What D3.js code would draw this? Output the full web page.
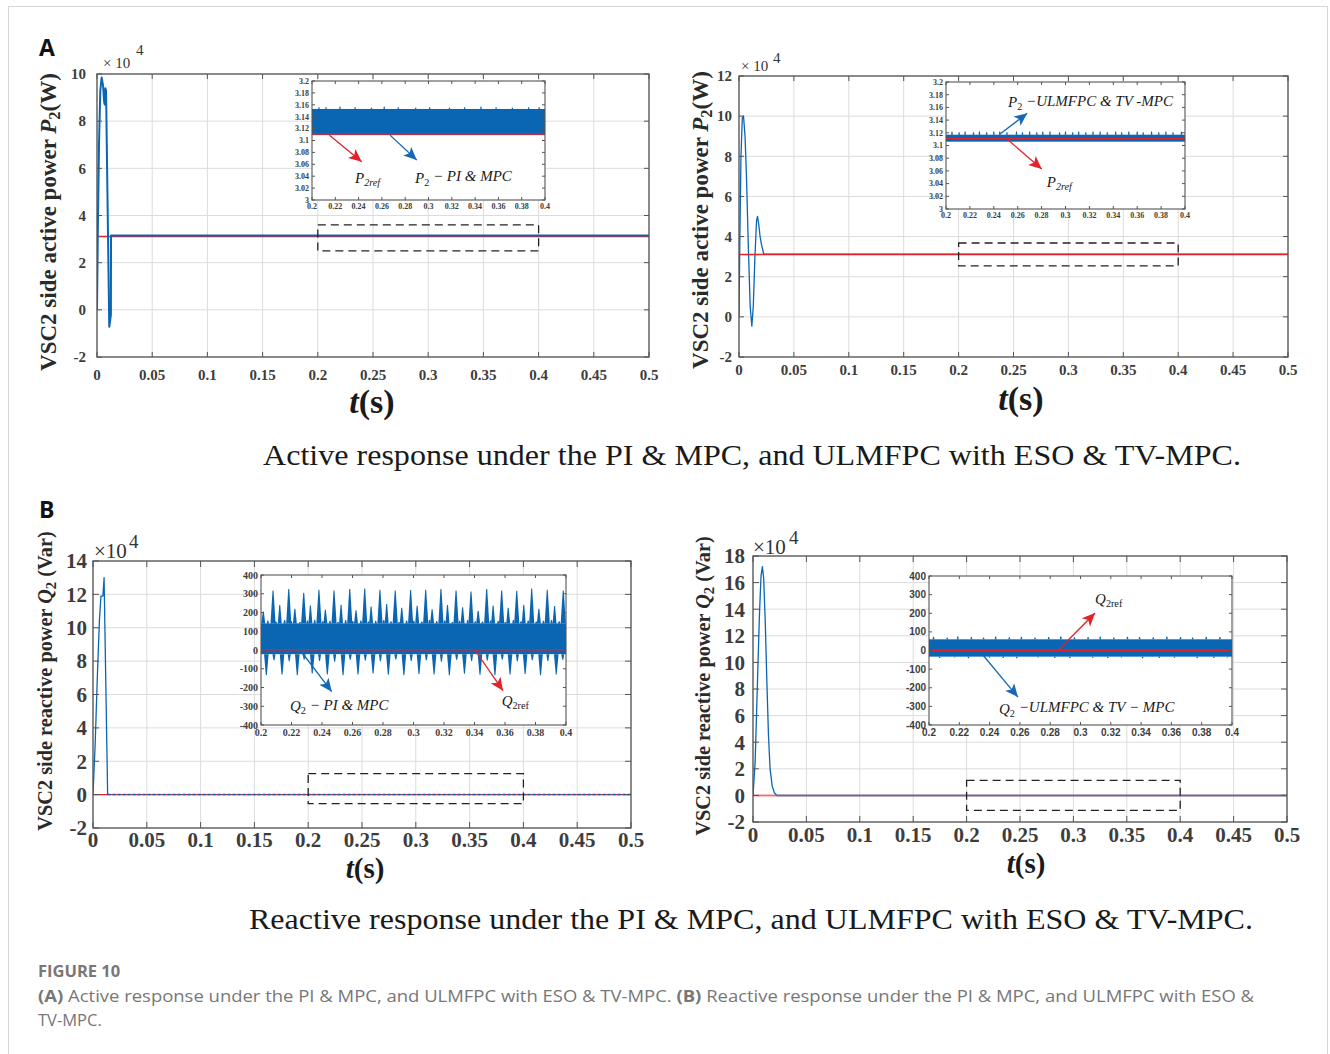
<!DOCTYPE html>
<html>
<head>
<meta charset="utf-8">
<script src="https://cdn.jsdelivr.net/npm/d3@7"></script>
<style>
  body { margin: 0; background: #fff; }
  svg { display: block; }
</style>
</head>
<body>
<div id="fig"></div>
<script>
// ---------- data ----------
const xTicks = [0, 0.05, 0.1, 0.15, 0.2, 0.25, 0.3, 0.35, 0.4, 0.45, 0.5];
const insetXTicks = [0.2, 0.22, 0.24, 0.26, 0.28, 0.3, 0.32, 0.34, 0.36, 0.38, 0.4];
const pYTicksA1 = [-2, 0, 2, 4, 6, 8, 10];
const pYTicksA2 = [-2, 0, 2, 4, 6, 8, 10, 12];
const qYTicksB1 = [-2, 0, 2, 4, 6, 8, 10, 12, 14];
const qYTicksB2 = [-2, 0, 2, 4, 6, 8, 10, 12, 14, 16, 18];
const pInsetYTicks = [3, 3.02, 3.04, 3.06, 3.08, 3.1, 3.12, 3.14, 3.16, 3.18, 3.2];
const qInsetYTicks = [-400, -300, -200, -100, 0, 100, 200, 300, 400];

// P2 (x10^4 W), PI & MPC
const p2PiT = [0, 0.0008, 0.0018, 0.003, 0.0042, 0.0055, 0.0065, 0.0071, 0.0076, 0.0082, 0.0111, 0.0126, 0.0127, 0.5];
const p2PiV = [0, 3.5, 7.0, 9.3, 9.85, 9.5, 8.8, 8.7, 9.4, 9.3, -0.72, -0.2, 3.155, 3.155];
// P2 (x10^4 W), ULMFPC & TV-MPC
const p2PropT = [0, 0.0008, 0.0018, 0.003, 0.0041, 0.0055, 0.0068, 0.0085, 0.0102, 0.0117, 0.013, 0.0145, 0.016, 0.0169, 0.018, 0.0192, 0.0205, 0.0226, 0.5];
const p2PropV = [0, 4.0, 8.0, 9.9, 10.0, 9.0, 7.0, 3.5, 0.5, -0.46, 0.5, 3.0, 4.8, 5.0, 4.6, 4.0, 3.6, 3.12, 3.12];
const p2RefT = [0, 0.5];
const p2RefV = [3.11, 3.11];

// Q2 (x10^4 Var), PI & MPC
const q2PiT = [0, 0.002, 0.004, 0.006, 0.0074, 0.0092, 0.0103, 0.0136];
const q2PiV = [0, 3.0, 7.0, 10.5, 11.9, 11.9, 13.0, 0.0];
const q2PiSteadyT = [0.0136, 0.5];
const q2PiSteadyV = [0.006, 0.006];
// Q2 (x10^4 Var), ULMFPC & TV-MPC
const q2PropT = [0, 0.002, 0.004, 0.006, 0.0075, 0.0088, 0.010, 0.0115, 0.013, 0.0145, 0.016, 0.018, 0.020, 0.0222];
const q2PropV = [0, 2.5, 8.0, 13.5, 16.5, 17.2, 16.3, 13.0, 8.5, 4.5, 2.0, 0.7, 0.2, 0];
const q2PropSteadyT = [0.0222, 0.5];
const q2PropSteadyV = [0, 0];
const q2RefT = [0, 0.5];
const q2RefV = [0, 0];

// zoom windows [t0, t1, v0, v1]
const zoomA1 = [0.2, 0.4, 2.5, 3.6];
const zoomA2 = [0.2, 0.4, 2.54, 3.68];
const zoomB1 = [0.2, 0.4, -0.54, 1.26];
const zoomB2 = [0.2, 0.4, -1.13, 1.13];

// inset bands [low, high] and edge spikes
const p2PiBand = [3.109, 3.153];
const p2PiBumpT = [0.206, 0.212, 0.224, 0.237, 0.251, 0.262, 0.274, 0.289, 0.301, 0.318, 0.331, 0.345, 0.358, 0.372, 0.386, 0.395];
const p2PiBumpV = [3.156, 3.156, 3.157, 3.156, 3.155, 3.157, 3.156, 3.155, 3.156, 3.155, 3.156, 3.157, 3.156, 3.155, 3.156, 3.156];
const p2PropBand = [3.106, 3.117];
const p2PropBumpT = [0.205, 0.211, 0.216, 0.223, 0.228, 0.234, 0.240, 0.245, 0.251, 0.259, 0.264, 0.270, 0.276, 0.281, 0.287, 0.295, 0.300, 0.306, 0.311, 0.317, 0.323, 0.329, 0.335, 0.342, 0.347, 0.353, 0.360, 0.365, 0.372, 0.378, 0.384, 0.390, 0.397];
const p2PropBumpV = [3.122, 3.121, 3.122, 3.121, 3.122, 3.121, 3.122, 3.122, 3.121, 3.122, 3.121, 3.122, 3.121, 3.122, 3.122, 3.121, 3.122, 3.121, 3.122, 3.121, 3.122, 3.122, 3.121, 3.122, 3.121, 3.122, 3.122, 3.121, 3.122, 3.121, 3.122, 3.121, 3.122];
const p2InsetRef = 3.111;

const q2PiBand = [-22, 142];
const q2PiTallT = [0.2079, 0.2182, 0.2280, 0.2380, 0.2479, 0.2582, 0.2680, 0.2780, 0.2880, 0.2981, 0.3080, 0.3180, 0.3279, 0.3377, 0.3480, 0.3578, 0.3677, 0.3775, 0.3877, 0.3982];
const q2PiTallV = [318, 325, 305, 322, 318, 326, 328, 322, 318, 320, 322, 326, 318, 312, 325, 318, 316, 328, 322, 318];
const q2PiMidT = [0.2015, 0.2123, 0.2222, 0.2324, 0.2422, 0.2525, 0.2623, 0.2722, 0.2824, 0.2923, 0.3024, 0.3122, 0.3223, 0.3322, 0.3424, 0.3522, 0.3621, 0.3723, 0.3822, 0.3925];
const q2PiMidV = [205, 240, 220, 238, 215, 242, 212, 232, 245, 225, 236, 218, 240, 228, 210, 238, 226, 242, 220, 235];
const q2PiEdgeT = [0.2045, 0.2098, 0.2155, 0.2198, 0.2255, 0.2305, 0.2352, 0.2405, 0.2452, 0.2505, 0.2555, 0.2602, 0.2655, 0.2705, 0.2752, 0.2805, 0.2852, 0.2905, 0.2955, 0.3002, 0.3055, 0.3105, 0.3152, 0.3205, 0.3255, 0.3302, 0.3355, 0.3405, 0.3452, 0.3505, 0.3555, 0.3602, 0.3655, 0.3705, 0.3752, 0.3805, 0.3852, 0.3905, 0.3955];
const q2PiEdgeV = [158, 152, 160, 155, 150, 158, 162, 154, 156, 150, 160, 155, 158, 152, 156, 160, 154, 150, 158, 156, 152, 160, 155, 158, 150, 156, 160, 154, 152, 158, 156, 150, 160, 154, 158, 152, 156, 160, 154];
const q2PiDownT = [0.2035, 0.2138, 0.2238, 0.2336, 0.2435, 0.2538, 0.2636, 0.2735, 0.2835, 0.2937, 0.3036, 0.3135, 0.3235, 0.3334, 0.3436, 0.3534, 0.3633, 0.3732, 0.3833, 0.3936];
const q2PiDownV = [-135, -130, -135, -125, -130, -135, -130, -125, -132, -135, -128, -130, -134, -126, -132, -135, -130, -128, -134, -130];
const q2PiDownSmallT = [0.2085, 0.2185, 0.2283, 0.2384, 0.2483, 0.2585, 0.2684, 0.2783, 0.2884, 0.2985, 0.3084, 0.3183, 0.3283, 0.3381, 0.3484, 0.3582, 0.3681, 0.3779, 0.3881, 0.3979];
const q2PiDownSmallV = [-55, -60, -50, -58, -62, -52, -56, -60, -50, -58, -54, -62, -52, -58, -56, -50, -60, -54, -58, -52];

const q2PropBand = [-33, 60];
const q2PropFuzzUpT = [0.203, 0.212, 0.219, 0.228, 0.236, 0.244, 0.253, 0.261, 0.270, 0.279, 0.287, 0.296, 0.305, 0.313, 0.322, 0.331, 0.339, 0.348, 0.357, 0.366, 0.374, 0.383, 0.392];
const q2PropFuzzUpV = [74, 70, 76, 72, 70, 75, 71, 74, 70, 73, 76, 71, 72, 75, 70, 74, 72, 71, 75, 73, 70, 74, 72];
const q2PropFuzzDnT = [0.207, 0.217, 0.226, 0.240, 0.249, 0.258, 0.272, 0.283, 0.293, 0.308, 0.318, 0.327, 0.341, 0.352, 0.362, 0.377, 0.388, 0.397];
const q2PropFuzzDnV = [-40, -38, -41, -39, -40, -42, -38, -40, -41, -39, -40, -38, -42, -40, -39, -41, -40, -38];

// ---------- drawing ----------
const W = 1330, H = 1054;
const blue = "#0a66b2", red = "#e3222b";
const serif = "'Liberation Serif', 'Times New Roman', serif";
const sans = "'Open Sans', 'Liberation Sans', sans-serif";

const svg = d3.select("#fig").append("svg")
  .attr("width", W).attr("height", H)
  .style("font-family", serif);

svg.append("rect").attr("x", 8.5).attr("y", 6.5).attr("width", 1319).attr("height", 1060)
  .attr("fill", "#fff").attr("stroke", "#d6d6d6");

const defs = svg.append("defs");
[["arrRed", red], ["arrBlue", "#1468b4"]].forEach(([id, c]) => {
  defs.append("marker")
    .attr("id", id)
    .attr("viewBox", "0 0 10 10")
    .attr("refX", 10).attr("refY", 5)
    .attr("markerWidth", 13).attr("markerHeight", 13)
    .attr("markerUnits", "userSpaceOnUse")
    .attr("orient", "auto")
    .append("path")
    .attr("d", "M0,0.5L10,5L0,9.5L2.5,5Z")
    .attr("fill", c);
});

let clipId = 0;
const pairs = (t, v) => d3.zip(t, v);

function drawMain(p) {
  const [x0, y0, x1, y1] = p.box;
  const x = d3.scaleLinear().domain([0, 0.5]).range([x0, x1]);
  const y = d3.scaleLinear().domain(p.yDomain).range([y1, y0]);
  const g = svg.append("g");

  // grid
  g.selectAll(null).data(xTicks).join("line")
    .attr("x1", d => x(d)).attr("x2", d => x(d)).attr("y1", y0).attr("y2", y1)
    .attr("stroke", "#dcdcdc").attr("stroke-width", 1);
  g.selectAll(null).data(p.yTicks).join("line")
    .attr("x1", x0).attr("x2", x1).attr("y1", d => y(d)).attr("y2", d => y(d))
    .attr("stroke", "#dcdcdc").attr("stroke-width", 1);

  const cid = "clip" + (clipId++);
  defs.append("clipPath").attr("id", cid)
    .append("rect").attr("x", x0).attr("y", y0).attr("width", x1 - x0).attr("height", y1 - y0);
  const plot = g.append("g").attr("clip-path", `url(#${cid})`);

  const line = d3.line().x(d => x(d[0])).y(d => y(d[1]));
  p.series.forEach(s => {
    plot.append("path")
      .datum(pairs(s.t, s.v))
      .attr("d", line)
      .attr("fill", "none")
      .attr("stroke", s.color)
      .attr("stroke-width", s.width || 1.3)
      .attr("stroke-opacity", s.opacity || 1)
      .attr("stroke-dasharray", s.dash || null)
      .attr("stroke-linejoin", "round");
  });

  // dashed zoom window
  const z = p.zoom;
  g.append("rect")
    .attr("x", x(z[0])).attr("y", y(z[3]))
    .attr("width", x(z[1]) - x(z[0])).attr("height", y(z[2]) - y(z[3]))
    .attr("fill", "none").attr("stroke", "#222").attr("stroke-width", 1.3)
    .attr("stroke-dasharray", "8,5");

  // frame with inward ticks on all sides
  const tl = p.tickLen;
  g.append("rect").attr("x", x0).attr("y", y0).attr("width", x1 - x0).attr("height", y1 - y0)
    .attr("fill", "none").attr("stroke", "#555").attr("stroke-width", 1.3);
  xTicks.forEach(d => {
    g.append("line").attr("x1", x(d)).attr("x2", x(d)).attr("y1", y1).attr("y2", y1 - tl).attr("stroke", "#555");
    g.append("line").attr("x1", x(d)).attr("x2", x(d)).attr("y1", y0).attr("y2", y0 + tl).attr("stroke", "#555");
  });
  p.yTicks.forEach(d => {
    g.append("line").attr("x1", x0).attr("x2", x0 + tl).attr("y1", y(d)).attr("y2", y(d)).attr("stroke", "#555");
    g.append("line").attr("x1", x1).attr("x2", x1 - tl).attr("y1", y(d)).attr("y2", y(d)).attr("stroke", "#555");
  });

  // tick labels
  g.selectAll(null).data(xTicks).join("text")
    .attr("x", d => x(d)).attr("y", y1 + p.xLabelDy)
    .attr("text-anchor", "middle")
    .attr("font-size", p.tickFont).attr("font-weight", "bold").attr("fill", "#3d3d3d")
    .text(d => String(d));
  g.selectAll(null).data(p.yTicks).join("text")
    .attr("x", x0 - p.yLabelDx).attr("y", d => y(d))
    .attr("dy", "0.35em")
    .attr("text-anchor", "end")
    .attr("font-size", p.tickFont).attr("font-weight", "bold").attr("fill", "#3d3d3d")
    .text(d => String(d));

  // x10^4 multiplier
  g.append("text").attr("x", p.mult[0]).attr("y", p.mult[1])
    .attr("font-size", p.mult[2]).attr("fill", "#333").text(p.multText);
  g.append("text").attr("x", p.mult[3]).attr("y", p.mult[4])
    .attr("font-size", p.mult[5]).attr("fill", "#333").text("4");

  // x label t(s)
  const xl = g.append("text").attr("x", p.xTitle[0]).attr("y", p.xTitle[1])
    .attr("text-anchor", "middle").attr("font-size", p.xTitle[2])
    .attr("font-weight", "bold").attr("fill", "#1a1a1a");
  xl.append("tspan").attr("font-style", "italic").text("t");
  xl.append("tspan").text("(s)");

  // y label
  const yl = g.append("text")
    .attr("transform", `translate(${p.yTitle[0]},${p.yTitle[1]}) rotate(-90)`)
    .attr("text-anchor", "middle").attr("dy", "0.35em")
    .attr("font-size", p.yTitle[2]).attr("font-weight", "bold").attr("fill", "#2a2a2a");
  yl.append("tspan").text(p.yText[0]);
  yl.append("tspan").attr("font-style", "italic").text(p.yText[1]);
  yl.append("tspan").attr("font-size", "72%").attr("dy", "0.25em").text("2");
  yl.append("tspan").attr("dy", "-0.18em").text(p.yText[2]);

  return { x, y, g };
}

function mathLabel(g, xx, yy, size, sym, sub, rest, subItalic) {
  const t = g.append("text").attr("x", xx).attr("y", yy)
    .attr("font-size", size).attr("fill", "#1a1a1a").attr("font-style", "italic");
  t.append("tspan").text(sym);
  t.append("tspan").attr("font-size", "68%").attr("dy", "0.3em")
    .attr("font-style", subItalic ? "italic" : "normal").text(sub);
  if (rest) t.append("tspan").attr("dy", "-0.3em").text(rest);
  return t;
}

function drawInset(p) {
  const [x0, y0, x1, y1] = p.box;
  const x = d3.scaleLinear().domain([0.2, 0.4]).range([x0, x1]);
  const y = d3.scaleLinear().domain(p.yDomain).range([y1, y0]);
  const g = svg.append("g");
  g.append("rect").attr("x", x0).attr("y", y0).attr("width", x1 - x0).attr("height", y1 - y0)
    .attr("fill", "#fff");

  const cid = "clip" + (clipId++);
  defs.append("clipPath").attr("id", cid)
    .append("rect").attr("x", x0).attr("y", y0).attr("width", x1 - x0).attr("height", y1 - y0);
  const plot = g.append("g").attr("clip-path", `url(#${cid})`);

  // noisy band
  plot.append("rect")
    .attr("x", x(0.2)).attr("width", x(0.4) - x(0.2))
    .attr("y", y(p.band[1])).attr("height", y(p.band[0]) - y(p.band[1]))
    .attr("fill", blue);
  // spikes as narrow triangles on the band edge
  p.spikes.forEach(s => {
    plot.selectAll(null).data(pairs(s.t, s.v)).join("path")
      .attr("d", d => {
        const base = d[1] > p.band[1] ? p.band[1] : p.band[0];
        return `M${x(d[0] - s.w)},${y(base)}L${x(d[0]) - 0.5},${y(d[1])}L${x(d[0]) + 0.5},${y(d[1])}L${x(d[0] + s.w)},${y(base)}Z`;
      })
      .attr("fill", blue);
  });
  // reference line
  plot.append("line").attr("x1", x(0.2)).attr("x2", x(0.4))
    .attr("y1", y(p.ref)).attr("y2", y(p.ref))
    .attr("stroke", red).attr("stroke-width", p.refWidth || 1.4);

  // frame + ticks
  g.append("rect").attr("x", x0).attr("y", y0).attr("width", x1 - x0).attr("height", y1 - y0)
    .attr("fill", "none").attr("stroke", "#555").attr("stroke-width", 1.1);
  insetXTicks.forEach(d => {
    g.append("line").attr("x1", x(d)).attr("x2", x(d)).attr("y1", y1).attr("y2", y1 - 3).attr("stroke", "#555");
    g.append("line").attr("x1", x(d)).attr("x2", x(d)).attr("y1", y0).attr("y2", y0 + 3).attr("stroke", "#555");
  });
  p.yTicks.forEach(d => {
    g.append("line").attr("x1", x0).attr("x2", x0 + 3).attr("y1", y(d)).attr("y2", y(d)).attr("stroke", "#555");
    g.append("line").attr("x1", x1).attr("x2", x1 - 3).attr("y1", y(d)).attr("y2", y(d)).attr("stroke", "#555");
  });
  g.selectAll(null).data(insetXTicks).join("text")
    .attr("x", d => x(d)).attr("y", y1 + p.tickFont + 1)
    .attr("text-anchor", "middle").attr("font-family", p.tickFamily)
    .attr("font-size", p.tickFont).attr("font-weight", "bold").attr("fill", "#3d3d3d")
    .text(d => String(d));
  g.selectAll(null).data(p.yTicks).join("text")
    .attr("x", x0 - 3).attr("y", d => y(d)).attr("dy", "0.35em")
    .attr("text-anchor", "end").attr("font-family", p.tickFamily)
    .attr("font-size", p.tickFont).attr("font-weight", "bold").attr("fill", "#3d3d3d")
    .text(d => String(d));

  // arrows
  p.arrows.forEach(a => {
    g.append("line")
      .attr("x1", x(a.from[0])).attr("y1", y(a.from[1]))
      .attr("x2", x(a.to[0])).attr("y2", y(a.to[1]))
      .attr("stroke", a.color === "red" ? red : "#1468b4").attr("stroke-width", 1.3)
      .attr("marker-end", a.color === "red" ? "url(#arrRed)" : "url(#arrBlue)");
  });
  p.labels.forEach(l => {
    mathLabel(g, x(l.at[0]), y(l.at[1]), l.size, l.sym, l.sub, l.rest, l.subItalic);
  });
}

// ---------- panel A ----------
svg.append("text").attr("x", 39).attr("y", 56).attr("font-family", sans)
  .attr("font-size", 23).attr("font-weight", "bold").attr("fill", "#111").text("A");

drawMain({
  box: [97, 74, 649, 357], yDomain: [-2, 10], yTicks: pYTicksA1, zoom: zoomA1,
  tickLen: 5, tickFont: 15, xLabelDy: 23, yLabelDx: 11,
  mult: [103, 68, 15, 136, 55, 15], multText: "× 10",
  xTitle: [372, 413, 34], yTitle: [48, 222, 23], yText: ["VSC2 side active power ", "P", "(W)"],
  series: [
    { t: p2RefT, v: p2RefV, color: red, width: 1.3 },
    { t: p2PiT, v: p2PiV, color: blue, width: 2 }
  ]
});
drawMain({
  box: [739, 76, 1288, 357], yDomain: [-2, 12], yTicks: pYTicksA2, zoom: zoomA2,
  tickLen: 5, tickFont: 15, xLabelDy: 18, yLabelDx: 7,
  mult: [741, 71, 15, 773, 63, 15], multText: "× 10",
  xTitle: [1021, 410, 34], yTitle: [700, 220, 23], yText: ["VSC2 side active power ", "P", "(W)"],
  series: [
    { t: p2PropT, v: p2PropV, color: blue, width: 1.3 },
    { t: p2RefT, v: p2RefV, color: red, width: 1.4 }
  ]
});

drawInset({
  box: [312, 81, 545, 200], yDomain: [3, 3.2], yTicks: pInsetYTicks,
  tickFont: 8, tickFamily: serif,
  band: p2PiBand, ref: p2InsetRef,
  spikes: [{ t: p2PiBumpT, v: p2PiBumpV, w: 0.0006 }],
  arrows: [
    { from: [0.215, 3.109], to: [0.2427, 3.0644], color: "red" },
    { from: [0.267, 3.109], to: [0.2899, 3.0672], color: "blue" }
  ],
  labels: [
    { at: [0.2369, 3.029], size: 15, sym: "P", sub: "2ref", subItalic: true },
    { at: [0.2884, 3.029], size: 15, sym: "P", sub: "2", rest: " − PI & MPC" }
  ]
});
drawInset({
  box: [946, 82, 1185, 209], yDomain: [3, 3.2], yTicks: pInsetYTicks,
  tickFont: 8, tickFamily: serif,
  band: p2PropBand, ref: p2InsetRef, refWidth: 1.6,
  spikes: [{ t: p2PropBumpT, v: p2PropBumpV, w: 0.0007 }],
  arrows: [
    { from: [0.2452, 3.118], to: [0.268, 3.1507], color: "blue" },
    { from: [0.2513, 3.1098], to: [0.2801, 3.063], color: "red" }
  ],
  labels: [
    { at: [0.2519, 3.1606], size: 15, sym: "P", sub: "2", rest: " −ULMFPC & TV -MPC" },
    { at: [0.2843, 3.035], size: 15, sym: "P", sub: "2ref", subItalic: true }
  ]
});

svg.append("text").attr("x", 752).attr("y", 465).attr("text-anchor", "middle")
  .attr("font-size", 29).attr("fill", "#1a1a1a")
  .attr("textLength", 978).attr("lengthAdjust", "spacingAndGlyphs")
  .text("Active response under the PI & MPC, and ULMFPC with ESO & TV-MPC.");

// ---------- panel B ----------
svg.append("text").attr("x", 39).attr("y", 518).attr("font-family", sans)
  .attr("font-size", 23).attr("font-weight", "bold").attr("fill", "#111").text("B");

drawMain({
  box: [93, 561, 631, 828], yDomain: [-2, 14], yTicks: qYTicksB1, zoom: zoomB1,
  tickLen: 6, tickFont: 21, xLabelDy: 19, yLabelDx: 6,
  mult: [94, 558, 21, 129, 548, 19], multText: "×10",
  xTitle: [365, 878, 29], yTitle: [45, 681, 20.3], yText: ["VSC2 side reactive power ", "Q", " (Var)"],
  series: [
    { t: q2RefT, v: q2RefV, color: red, width: 1.4 },
    { t: q2PiT, v: q2PiV, color: blue, width: 1.3 },
    { t: q2PiSteadyT, v: q2PiSteadyV, color: blue, width: 1.6, dash: "3,2" }
  ]
});
drawMain({
  box: [753, 556, 1287, 822], yDomain: [-2, 18], yTicks: qYTicksB2, zoom: zoomB2,
  tickLen: 6, tickFont: 21, xLabelDy: 20, yLabelDx: 8,
  mult: [753, 554, 21, 789, 544, 19], multText: "×10",
  xTitle: [1026, 873, 29], yTitle: [703, 686, 20.3], yText: ["VSC2 side reactive power ", "Q", " (Var)"],
  series: [
    { t: q2RefT, v: q2RefV, color: red, width: 2, opacity: 0.55 },
    { t: q2PropT, v: q2PropV, color: blue, width: 1.3 },
    { t: q2PropSteadyT, v: q2PropSteadyV, color: blue, width: 2, opacity: 0.55 }
  ]
});

drawInset({
  box: [261, 575, 566, 725], yDomain: [-400, 400], yTicks: qInsetYTicks,
  tickFont: 10, tickFamily: serif,
  band: q2PiBand, ref: 0, refWidth: 1.2,
  spikes: [
    { t: q2PiEdgeT, v: q2PiEdgeV, w: 0.0008 },
    { t: q2PiTallT, v: q2PiTallV, w: 0.0017 },
    { t: q2PiMidT, v: q2PiMidV, w: 0.0013 },
    { t: q2PiDownT, v: q2PiDownV, w: 0.0015 },
    { t: q2PiDownSmallT, v: q2PiDownSmallV, w: 0.001 }
  ],
  arrows: [
    { from: [0.2256, 0], to: [0.2464, -222], color: "blue" },
    { from: [0.3403, 0], to: [0.3587, -217], color: "red" }
  ],
  labels: [
    { at: [0.219, -326], size: 15, sym: "Q", sub: "2", rest: " − PI & MPC" },
    { at: [0.3578, -300], size: 15, sym: "Q", sub: "2ref", subItalic: false }
  ]
});
drawInset({
  box: [929, 576, 1232, 725], yDomain: [-400, 400], yTicks: qInsetYTicks,
  tickFont: 10, tickFamily: "'Liberation Sans', Arial, sans-serif",
  band: q2PropBand, ref: 0, refWidth: 1.6,
  spikes: [
    { t: q2PropFuzzUpT, v: q2PropFuzzUpV, w: 0.0006 },
    { t: q2PropFuzzDnT, v: q2PropFuzzDnV, w: 0.0006 }
  ],
  arrows: [
    { from: [0.2851, 0], to: [0.3096, 201], color: "red" },
    { from: [0.2356, -24], to: [0.2587, -250], color: "blue" }
  ],
  labels: [
    { at: [0.3096, 248], size: 15, sym: "Q", sub: "2ref", subItalic: false },
    { at: [0.2462, -340], size: 15, sym: "Q", sub: "2", rest: " −ULMFPC & TV − MPC" }
  ]
});

svg.append("text").attr("x", 751).attr("y", 929).attr("text-anchor", "middle")
  .attr("font-size", 29).attr("fill", "#1a1a1a")
  .attr("textLength", 1004).attr("lengthAdjust", "spacingAndGlyphs")
  .text("Reactive response under the PI & MPC, and ULMFPC with ESO & TV-MPC.");

// ---------- caption ----------
const cap = svg.append("g").attr("font-family", sans).attr("fill", "#777");
cap.append("text").attr("x", 38).attr("y", 977).attr("font-size", 16.5)
  .attr("font-weight", "bold").text("FIGURE 10");
const c1 = cap.append("text").attr("x", 38).attr("y", 1002).attr("font-size", 16.5)
  .attr("textLength", 1216).attr("lengthAdjust", "spacingAndGlyphs");
c1.append("tspan").attr("font-weight", "bold").text("(A)");
c1.append("tspan").text(" Active response under the PI & MPC, and ULMFPC with ESO & TV-MPC. ");
c1.append("tspan").attr("font-weight", "bold").text("(B)");
c1.append("tspan").text(" Reactive response under the PI & MPC, and ULMFPC with ESO &");
cap.append("text").attr("x", 38).attr("y", 1026).attr("font-size", 16.5).text("TV-MPC.");
</script>
</body>
</html>
